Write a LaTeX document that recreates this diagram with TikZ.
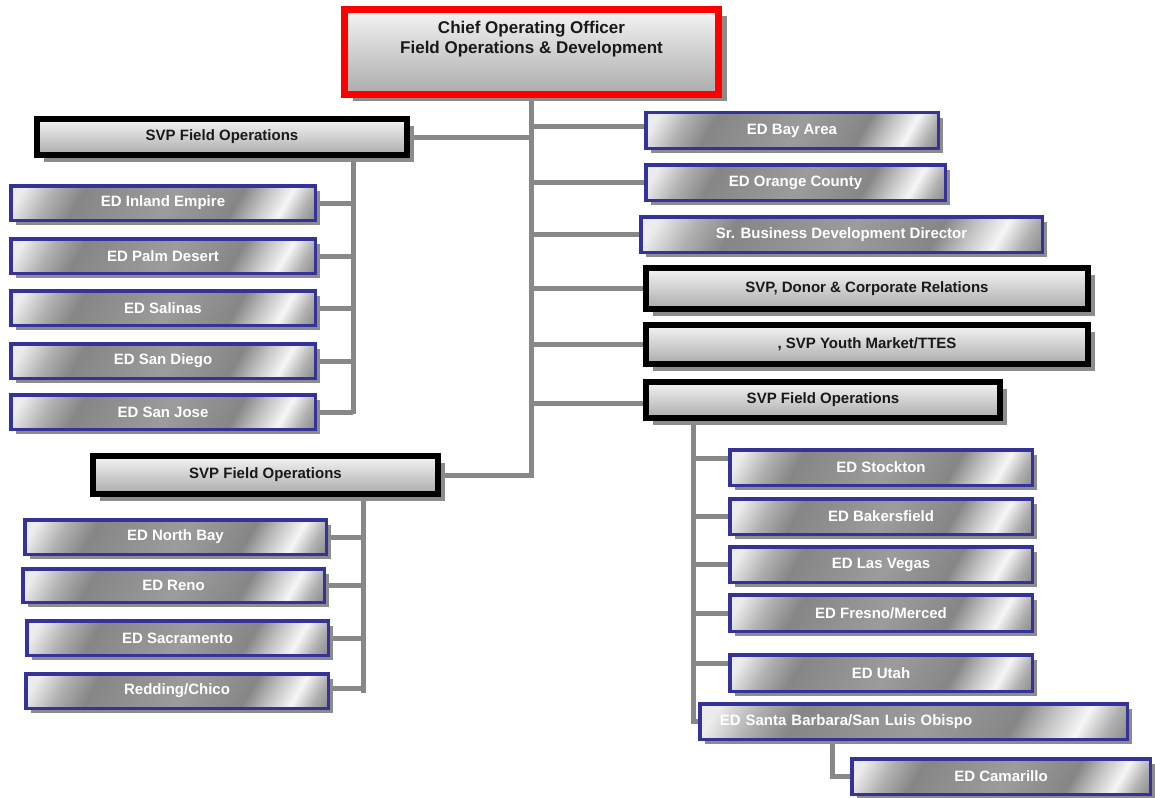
\documentclass[tikz,border=0pt]{standalone}
\usepackage{fontspec}
\setmainfont{Liberation Sans}
\usetikzlibrary{shadows,calc}
\pgfdeclarelayer{background}
\pgfdeclarelayer{paper}
\pgfsetlayers{paper,background,main}
\definecolor{bluebd}{RGB}{51,51,153}
\definecolor{conn}{RGB}{136,136,136}
\definecolor{shad}{RGB}{140,140,140}
\definecolor{ga}{RGB}{236,236,236}
\definecolor{gb}{RGB}{176,176,176}
\definecolor{gc}{RGB}{134,134,134}
\definecolor{gd}{RGB}{156,156,156}
\definecolor{ge}{RGB}{194,194,194}
\definecolor{gf}{RGB}{246,246,246}
\definecolor{gg}{RGB}{142,142,142}
\pgfdeclarehorizontalshading{metal}{100bp}{color(0bp)=(ga); color(18.8bp)=(ga); color(25.3bp)=(gb); color(31.8bp)=(gc); color(51.3bp)=(gd); color(65.6bp)=(gc); color(70.8bp)=(ge); color(76bp)=(gf); color(80.5bp)=(gb); color(83.8bp)=(gg); color(100bp)=(gg)}
\tikzset{
  basebox/.style={rectangle, inner sep=0pt, outer sep=0pt, align=center,
    font=\bfseries\fontsize{15}{17}\selectfont},
  bluebox/.style={basebox, draw=bluebd, line width=3.5pt, shading=metal, shading angle=-30,
    text=white, drop shadow={shadow xshift=5pt, shadow yshift=-5pt, fill=shad, opacity=1}},
  blackbox/.style={basebox, draw=black, line width=6pt, top color=white!96!black,
    bottom color=black!33, text=black!90,
    drop shadow={shadow xshift=6.5pt, shadow yshift=-6.5pt, fill=shad, opacity=1}},
  redbox/.style={basebox, draw=red, line width=7pt, top color=white!96!black,
    bottom color=black!33, text=black!90, font=\bfseries\fontsize{17}{20}\selectfont,
    drop shadow={shadow xshift=8.5pt, shadow yshift=-7pt, fill=shad, opacity=1}},
  conn/.style={draw=conn, line width=5pt}
}
% name, style, lw, x1, y1, x2, y2, text
\newcommand\mybox[8]{%
  \node[#2, minimum width={(#6-#4-#3)*1pt}, minimum height={(#7-#5-#3)*1pt}]
    (#1) at ({(#4+#6)/2},{(#5+#7)/2}) {#8};}
\begin{document}
\begin{tikzpicture}[x=1pt,y=-1pt]
\useasboundingbox (0,0) rectangle (1155,797);
\begin{pgfonlayer}{paper}
  \fill[white] (0,0) rectangle (1155,797);
\end{pgfonlayer}
% top
\mybox{coo}{redbox}{7}{341}{6}{722}{98}{Chief Operating Officer\\Field Operations \& Development\rule[-29pt]{0pt}{29pt}}
% left group 1
\mybox{lone}{blackbox}{6}{34}{116}{410}{158}{SVP Field Operations}
\mybox{ie}{bluebox}{3.5}{9}{184}{317}{222}{ED Inland Empire}
\mybox{pd}{bluebox}{3.5}{9}{237}{317}{275}{ED Palm Desert}
\mybox{sal}{bluebox}{3.5}{9}{289}{317}{327}{ED Salinas}
\mybox{sd}{bluebox}{3.5}{9}{342}{317}{380}{ED San Diego}
\mybox{sj}{bluebox}{3.5}{9}{393}{317}{431}{ED San Jose}
% left group 2
\mybox{ltwo}{blackbox}{6}{90}{453}{441}{497}{SVP Field Operations}
\mybox{nb}{bluebox}{3.5}{23}{518}{328}{556}{ED North Bay}
\mybox{reno}{bluebox}{3.5}{21}{567}{326}{604}{ED Reno}
\mybox{sac}{bluebox}{3.5}{25}{619}{330}{657}{ED Sacramento}
\mybox{rc}{bluebox}{3.5}{24}{672}{330}{710}{Redding/Chico}
% right column
\mybox{ba}{bluebox}{3.5}{644}{111}{940}{150}{ED Bay Area}
\mybox{oc}{bluebox}{3.5}{644}{163}{947}{202}{ED Orange County}
\mybox{sbd}{bluebox}{3.5}{639}{215}{1044}{254}{Sr. Business Development Director}
\mybox{don}{blackbox}{6}{643}{265}{1091}{312}{SVP, Donor \& Corporate Relations}
\mybox{yth}{blackbox}{6}{643}{322}{1091}{367}{, SVP Youth Market/TTES}
\mybox{rsvp}{blackbox}{6}{643}{379}{1003}{421}{SVP Field Operations}
% right subgroup
\mybox{st}{bluebox}{3.5}{728}{448}{1034}{487}{ED Stockton}
\mybox{bk}{bluebox}{3.5}{728}{497}{1034}{536}{ED Bakersfield}
\mybox{lv}{bluebox}{3.5}{728}{545}{1034}{584}{ED Las Vegas}
\mybox{fm}{bluebox}{3.5}{728}{593}{1034}{633}{ED Fresno/Merced}
\mybox{ut}{bluebox}{3.5}{728}{653}{1034}{693}{ED Utah}
\node[bluebox, minimum height=35.5pt, text width={(1129-698-3.5-40)*1pt}, inner xsep=20pt, align=left]
  (sb) at ({(698+1129)/2},{(702+741)/2}) {ED Santa Barbara/San Luis Obispo};
\mybox{cam}{bluebox}{3.5}{850}{757}{1152}{796}{ED Camarillo}
% trunk coordinates
\coordinate (lonet) at (353,158);
\coordinate (ltwot) at (363,497);
\coordinate (rt) at (693,421);
\coordinate (sbt) at (832,741);
\begin{pgfonlayer}{background}
  % central trunk
  \draw[conn] (coo.south) -- (coo.south |- ltwo.east) -- (ltwo.east);
  \draw[conn] (lone.east) -- (lone.east -| coo.south);
  \draw[conn] ([yshift=4pt]ba.west) -- ([yshift=4pt]ba.west -| coo.south);
  \draw[conn] (oc.west) -- (oc.west -| coo.south);
  \draw[conn] (sbd.west) -- (sbd.west -| coo.south);
  \draw[conn] (don.west) -- (don.west -| coo.south);
  \draw[conn] (yth.west) -- (yth.west -| coo.south);
  \draw[conn] ([yshift=-3pt]rsvp.west) -- ([yshift=-3pt]rsvp.west -| coo.south);
  % left group 1
  \draw[conn] (lonet) -- ([yshift=-2pt]lonet |- sj.east);
  \foreach \n in {ie,pd,sal,sd,sj} \draw[conn] (\n.east) -- (\n.east -| lonet);
  % left group 2
  \draw[conn] (ltwot) -- ([yshift=-2pt]ltwot |- rc.east);
  \draw[conn] (nb.east) -- (nb.east -| ltwot);
  \draw[conn] (reno.east) -- (reno.east -| ltwot);
  \draw[conn] (sac.east) -- (sac.east -| ltwot);
  \draw[conn] ([yshift=3pt]rc.east) -- ([yshift=3pt]rc.east -| ltwot);
  % right subgroup
  \draw[conn] (rt) -- (rt |- sb.west) -- (sb.west);
  \draw[conn] ([yshift=9.5pt]st.west) -- ([yshift=9.5pt]st.west -| rt);
  \draw[conn] (bk.west) -- (bk.west -| rt);
  \draw[conn] (lv.west) -- (lv.west -| rt);
  \draw[conn] (fm.west) -- (fm.west -| rt);
  \draw[conn] ([yshift=10pt]ut.west) -- ([yshift=10pt]ut.west -| rt);
  \draw[conn] (sbt) -- (sbt |- cam.west) -- (cam.west);
\end{pgfonlayer}
\end{tikzpicture}
\end{document}
